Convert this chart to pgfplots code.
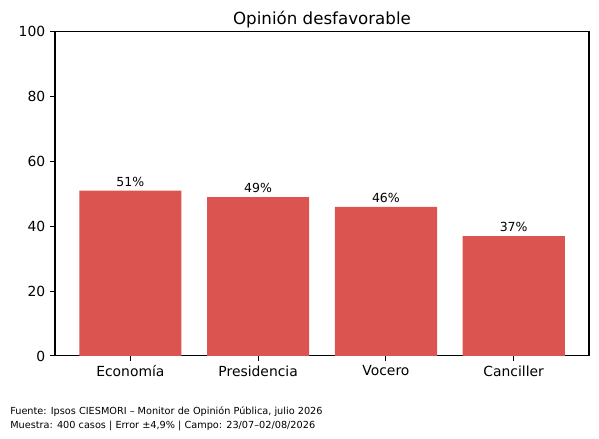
\documentclass[border=0pt]{standalone}
\usepackage{pgfplots}
\pgfplotsset{compat=1.18}
\usepackage{fontspec}
\setmainfont{DejaVu Sans}
\definecolor{barred}{HTML}{DB5450}
\begin{document}
\begin{tikzpicture}
\path[use as bounding box] (0,0) rectangle (431.28pt,316.08pt);
\begin{axis}[
  at={(39.6pt,59.8pt)}, anchor=south west,
  scale only axis, width=384.5pt, height=233.3pt,
  xmin=-0.59, xmax=3.59, ymin=0, ymax=100,
  xtick={0,1,2,3},
  xticklabels={Economía,Presidencia,Vocero,Canciller},
  ytick={0,20,40,60,80,100},
  tick align=outside, tick pos=left,
  major tick length=3.5pt,
  every tick/.style={black, line width=0.8pt},
  axis line style={line width=0.8pt},
  /pgf/number format/assume math mode=true,
  tick label style={font=\fontsize{10}{12}\selectfont},
  title={Opinión desfavorable},
  title style={font=\fontsize{12}{14}\selectfont, at={(0.5,1)}, anchor=base, yshift=-0.5pt},
  ybar, bar width=0.8,
  nodes near coords={\pgfmathprintnumber{\pgfplotspointmeta}\%},
  every node near coord/.style={font=\fontsize{9}{11}\selectfont, black, anchor=south, inner sep=0pt, yshift=3pt},
]
\addplot[fill=barred, draw=none, bar shift=0pt] coordinates {(0,51) (1,49) (2,46) (3,37)};
\end{axis}
\node[anchor=base west, inner sep=0pt, font=\fontsize{7}{8.5}\selectfont] at (7.2pt,17.3pt) {Fuente: Ipsos CIESMORI – Monitor de Opinión Pública, julio 2026};
\node[anchor=base west, inner sep=0pt, font=\fontsize{7}{8.5}\selectfont] at (7.2pt,7.9pt) {Muestra: 400 casos | Error ±4,9\% | Campo: 23/07–02/08/2026};
\end{tikzpicture}
\end{document}
